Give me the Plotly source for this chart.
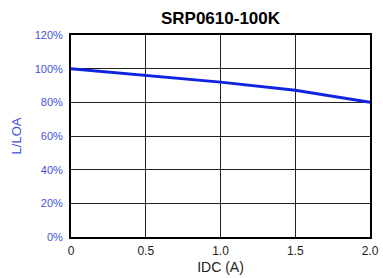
import plotly.graph_objects as go

idc = [0, 0.5, 1.0, 1.5, 2.0]
ratio = [100, 96, 92, 87.2, 80]
x_ticks = [0, 0.5, 1.0, 1.5, 2.0]
x_labels = ["0", "0.5", "1.0", "1.5", "2.0"]
y_ticks = [0, 20, 40, 60, 80, 100, 120]
y_labels = ["0%", "20%", "40%", "60%", "80%", "100%", "120%"]

blue_text = "#3f51e0"
font_fam = "Liberation Sans, Arial, sans-serif"

fig = go.Figure()
fig.add_trace(go.Scatter(x=idc, y=ratio, mode="lines",
                         line=dict(color="#1024e0", width=3), showlegend=False))
fig.update_layout(
    width=383, height=278,
    margin=dict(l=71, r=13, t=35, b=41),
    paper_bgcolor="white", plot_bgcolor="white",
    title=dict(text="<b>SRP0610-100K</b>", x=(71 + 370) / 2 / 383, xanchor="center",
               y=1 - 18 / 278, yanchor="middle",
               font=dict(family=font_fam, size=17, color="black")),
    font=dict(family=font_fam, size=11, color="black"),
)
fig.update_xaxes(range=[0, 2.0], tickvals=x_ticks, ticktext=x_labels,
                 showgrid=True, gridcolor="#222222", gridwidth=1,
                 showline=True, linecolor="black", linewidth=2, mirror=True,
                 ticks="outside", ticklen=2, tickcolor="rgba(0,0,0,0)", zeroline=False,
                 automargin=False,
                 title=dict(text="IDC (A)", font=dict(size=14, color="#222222"), standoff=5),
                 tickfont=dict(size=12, color="#222222"))
fig.update_yaxes(range=[0, 120], tickvals=y_ticks, ticktext=y_labels,
                 showgrid=True, gridcolor="#222222", gridwidth=1,
                 showline=True, linecolor="black", linewidth=2, mirror=True,
                 ticks="outside", ticklen=4, tickcolor="rgba(0,0,0,0)", zeroline=False,
                 automargin=False,
                 title=dict(text="L/LOA", font=dict(size=13, color=blue_text), standoff=10),
                 tickfont=dict(size=11, color=blue_text))
fig.write_html("out.html", config={"displayModeBar": False},
               post_script="document.body.style.margin='0';document.body.style.overflow='hidden';")
